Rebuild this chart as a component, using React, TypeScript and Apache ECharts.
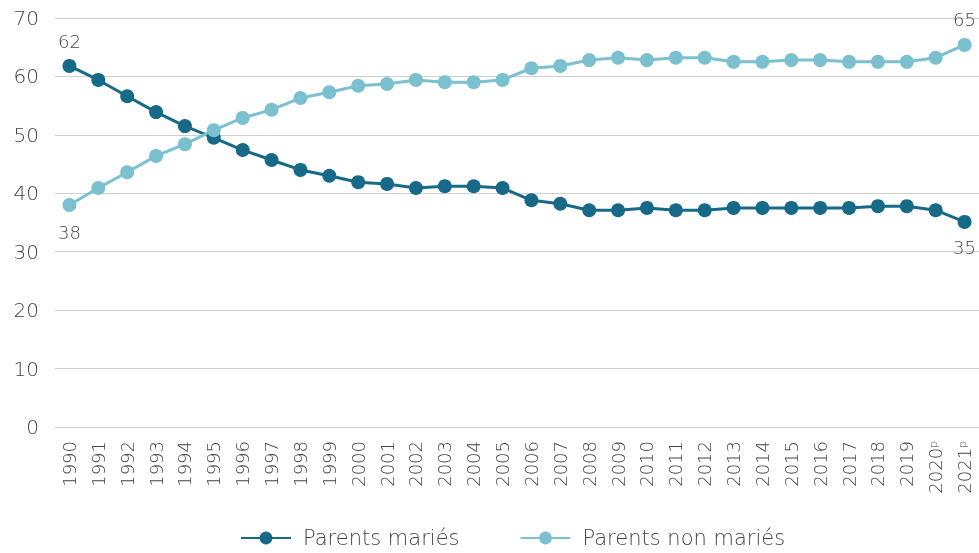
import React, { useEffect, useRef } from "react";
import * as echarts from "echarts";

const years = ["1990","1991","1992","1993","1994","1995","1996","1997","1998","1999","2000","2001","2002","2003","2004","2005","2006","2007","2008","2009","2010","2011","2012","2013","2014","2015","2016","2017","2018","2019","2020ᵖ","2021ᵖ"];
const married = [61.8,59.4,56.6,53.9,51.5,49.5,47.4,45.7,44.0,43.0,41.9,41.6,40.9,41.2,41.2,40.9,38.8,38.2,37.1,37.1,37.5,37.1,37.1,37.5,37.5,37.5,37.5,37.5,37.8,37.8,37.1,35.1];
const unmarried = [38.0,40.9,43.6,46.4,48.4,50.8,52.9,54.3,56.3,57.3,58.4,58.7,59.4,59.0,59.0,59.4,61.4,61.8,62.8,63.2,62.8,63.2,63.2,62.5,62.5,62.8,62.8,62.5,62.5,62.5,63.2,65.4];
const yTicks = [0, 10, 20, 30, 40, 50, 60, 70];

const DARK = "#176a87";
const LIGHT = "#7bc0cf";
const FONT = "'DejaVu Sans', 'Noto Sans', sans-serif";
const TXT = "#444444";
const W = 200;

export default function App() {
  const ref = useRef<HTMLDivElement>(null);
  useEffect(() => {
    if (!ref.current) return;
    const chart = echarts.init(ref.current, undefined, { renderer: "svg" });
    const last = years.length - 1;
    const labelled = (vals: number[], pos: "top" | "bottom", d0: number, endPos: "top" | "bottom", d1: number) =>
      vals.map((v, i) => {
        if (i === 0) return { value: v, label: { show: true, position: pos, distance: d0, formatter: () => String(Math.round(v)) } };
        if (i === last) return { value: v, label: { show: true, position: endPos, distance: d1, formatter: () => String(Math.round(v)) } };
        return v;
      });
    chart.setOption({
      animation: false,
      textStyle: { fontFamily: FONT, fontWeight: W },
      grid: { left: 55, right: 0, top: 18, bottom: 126, containLabel: false },
      legend: {
        top: 526,
        left: 240,
        padding: 0,
        itemWidth: 50,
        itemHeight: 16,
        itemGap: 60,
        textStyle: { fontSize: 21, lineHeight: 24, color: TXT, fontFamily: FONT, fontWeight: W, padding: [0, 0, 0, 7] },
        data: ["Parents mariés", "Parents non mariés"],
      },
      xAxis: {
        type: "category",
        data: years,
        boundaryGap: true,
        axisLine: { show: false },
        axisTick: { show: false },
        axisLabel: { rotate: 90, fontSize: 18, color: TXT, margin: 14, interval: 0, fontFamily: FONT, fontWeight: W },
      },
      yAxis: {
        type: "value",
        min: yTicks[0],
        max: yTicks[yTicks.length - 1],
        interval: 10,
        axisLine: { show: false },
        axisTick: { show: false },
        axisLabel: { fontSize: 20, color: TXT, margin: 16, fontFamily: FONT, fontWeight: W },
        splitLine: { lineStyle: { color: "#d0d0d0", width: 1 } },
      },
      series: [
        {
          name: "Parents mariés",
          type: "line",
          data: labelled(married, "top", 8, "bottom", 10),
          color: DARK,
          symbol: "circle",
          symbolSize: 14,
          lineStyle: { width: 3, color: DARK },
          itemStyle: { color: DARK },
          label: { show: false, fontSize: 18, color: TXT, fontFamily: FONT, fontWeight: W },
        },
        {
          name: "Parents non mariés",
          type: "line",
          data: labelled(unmarried, "bottom", 12, "top", 9),
          color: LIGHT,
          symbol: "circle",
          symbolSize: 14,
          lineStyle: { width: 3, color: LIGHT },
          itemStyle: { color: LIGHT },
          label: { show: false, fontSize: 18, color: TXT, fontFamily: FONT, fontWeight: W },
        },
      ],
    });
    return () => chart.dispose();
  }, []);
  return <div ref={ref} style={{ position: "fixed", left: 0, top: 0, width: 979, height: 553 }} />;
}
